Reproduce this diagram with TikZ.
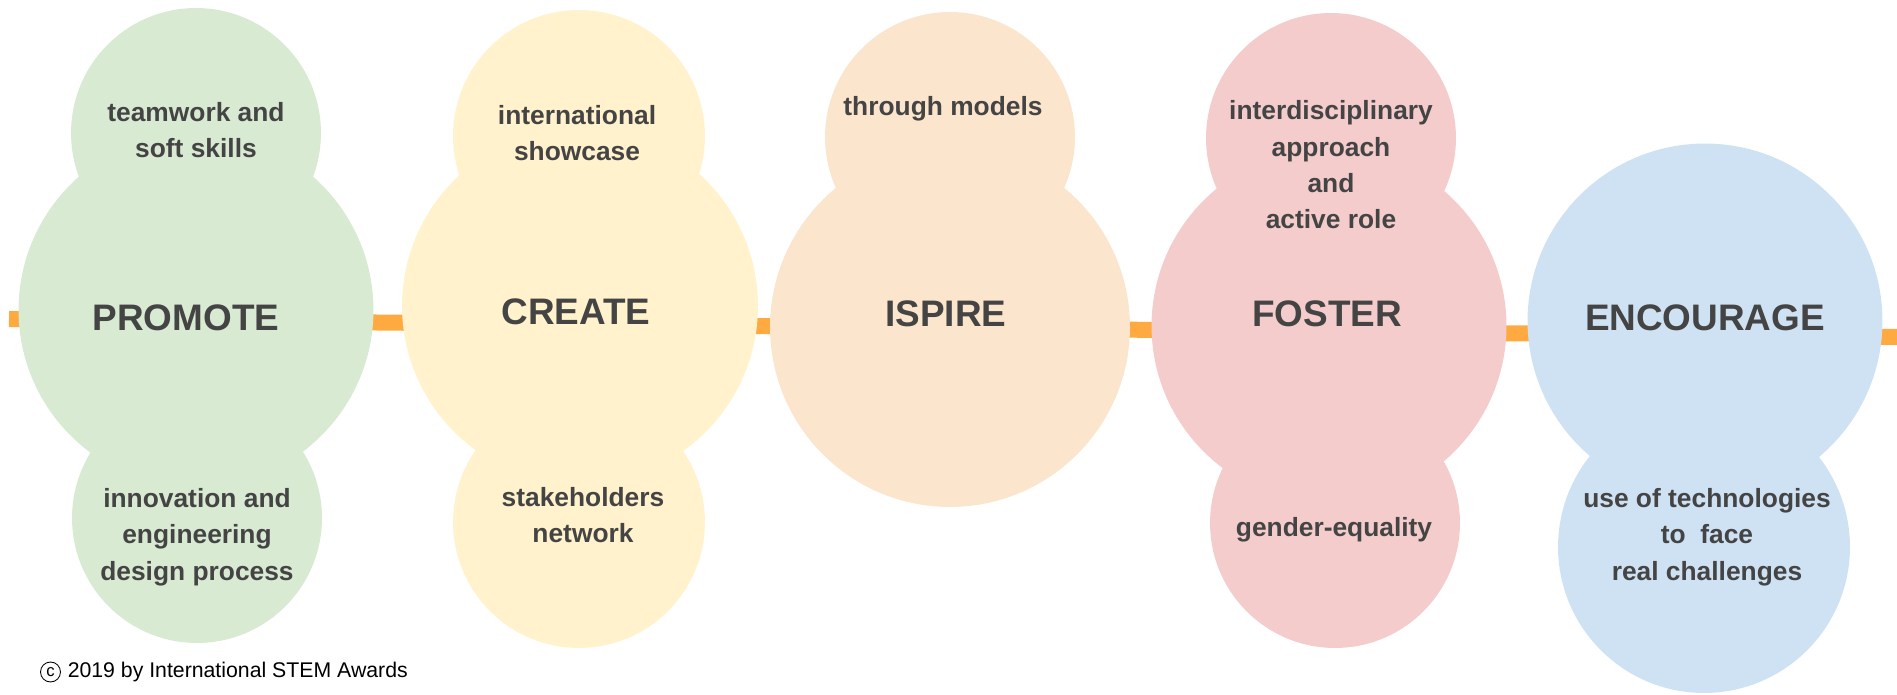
\documentclass[tikz,border=0pt]{standalone}
\usepackage{fontspec}
\setmainfont{Liberation Sans}
\usepackage{tikz}
\usetikzlibrary{positioning}
\definecolor{pmfill}{HTML}{D9EAD3}
\definecolor{crfill}{HTML}{FFF2CC}
\definecolor{isfill}{HTML}{FCE5CD}
\definecolor{fofill}{HTML}{F4CCCC}
\definecolor{enfill}{HTML}{CFE2F3}
\definecolor{pathorange}{HTML}{FFAA40}
\definecolor{inkgray}{HTML}{444444}

\begin{document}
\begin{tikzpicture}[x = 0.02cm, y = -0.02cm,
    bubble/.style = {circle, fill = #1, inner sep = 0pt},
    core/.style = {minimum size = 7.1cm},
    bud/.style = {minimum size = 5cm},
    word/.style = {text = inkgray, font = \fontsize{21}{25}\selectfont\bfseries},
    note/.style = {text = inkgray, align = center, font = \fontsize{15}{20.7}\selectfont\bfseries}]
    \useasboundingbox (0,0) rectangle (1897,695);
    % the path behind the bubbles
    \coordinate (start) at (9,319);
    \coordinate (finish) at (1897,337);
    \draw[pathorange, line width = 0.32cm] (start) -- (finish);
    % PROMOTE
    \node[bubble = pmfill, core] (pm) at (196,310) {};
    \node[bubble = pmfill, bud] (pmtop) at (196,133) {};
    \node[bubble = pmfill, bud] (pmbot) at (197,518) {};
    % CREATE
    \node[bubble = crfill, core, minimum size = 7.12cm] (cr) at (580,306) {};
    \node[bubble = crfill, bud, minimum size = 5.04cm] (crtop) at (579,136) {};
    \node[bubble = crfill, bud, minimum size = 5.04cm] (crbot) at (579,522) {};
    % ISPIRE
    \node[bubble = isfill, core, minimum size = 7.2cm] (is) at (950,327) {};
    \node[bubble = isfill, bud] (istop) at (950,137) {};
    % FOSTER
    \node[bubble = fofill, core] (fo) at (1329,326) {};
    \node[bubble = fofill, bud] (fotop) at (1331,138) {};
    \node[bubble = fofill, bud] (fobot) at (1335,523) {};
    % ENCOURAGE
    \node[bubble = enfill, core] (en) at (1705,321) {};
    \node[bubble = enfill, minimum size = 5.84cm] (enbot) at (1704,547) {};
        % Labels
    \node[word] (pmword) at (186,318) {PROMOTE};
    \node[note] (pmup) at (196,130) {teamwork and\\soft skills};
    \node[note] (pmdown) at (197,537) {innovation and\\engineering\\design process};
    \node[word] (crword) at (576,312) {CREATE};
    \node[note] (crup) at (577,133) {international\\showcase};
    \node[note] (crdown) at (583,515) {stakeholders\\network};
    \node[word] (isword) at (946,314) {ISPIRE};
    \node[note] (isup) at (943,109) {through models};
    \node[word] (foword) at (1327,314) {FOSTER};
    \node[note] (foup) at (1331,165) {interdisciplinary\\approach\\and\\active role};
    \node[note] (fodown) at (1334,530) {gender-equality};
    \node[word] (enword) at (1705,318) {ENCOURAGE};
    \node[note] (endown) at (1707,537) {use of technologies\\to~~face\\real challenges};
        % credit line
    \node[circle, draw, line width = 0.5pt, inner sep = 0pt, minimum size = 0.4cm, font = \fontsize{9.5}{10}\selectfont] (cmark) at (50.5,672) {\raisebox{0.3pt}{c}};
    \node[anchor = west, font = \fontsize{12.1}{14}\selectfont, inner sep = 0pt, right = 0.13cm of cmark] (credit) {2019 by International STEM Awards};
\end{tikzpicture}
\end{document}
